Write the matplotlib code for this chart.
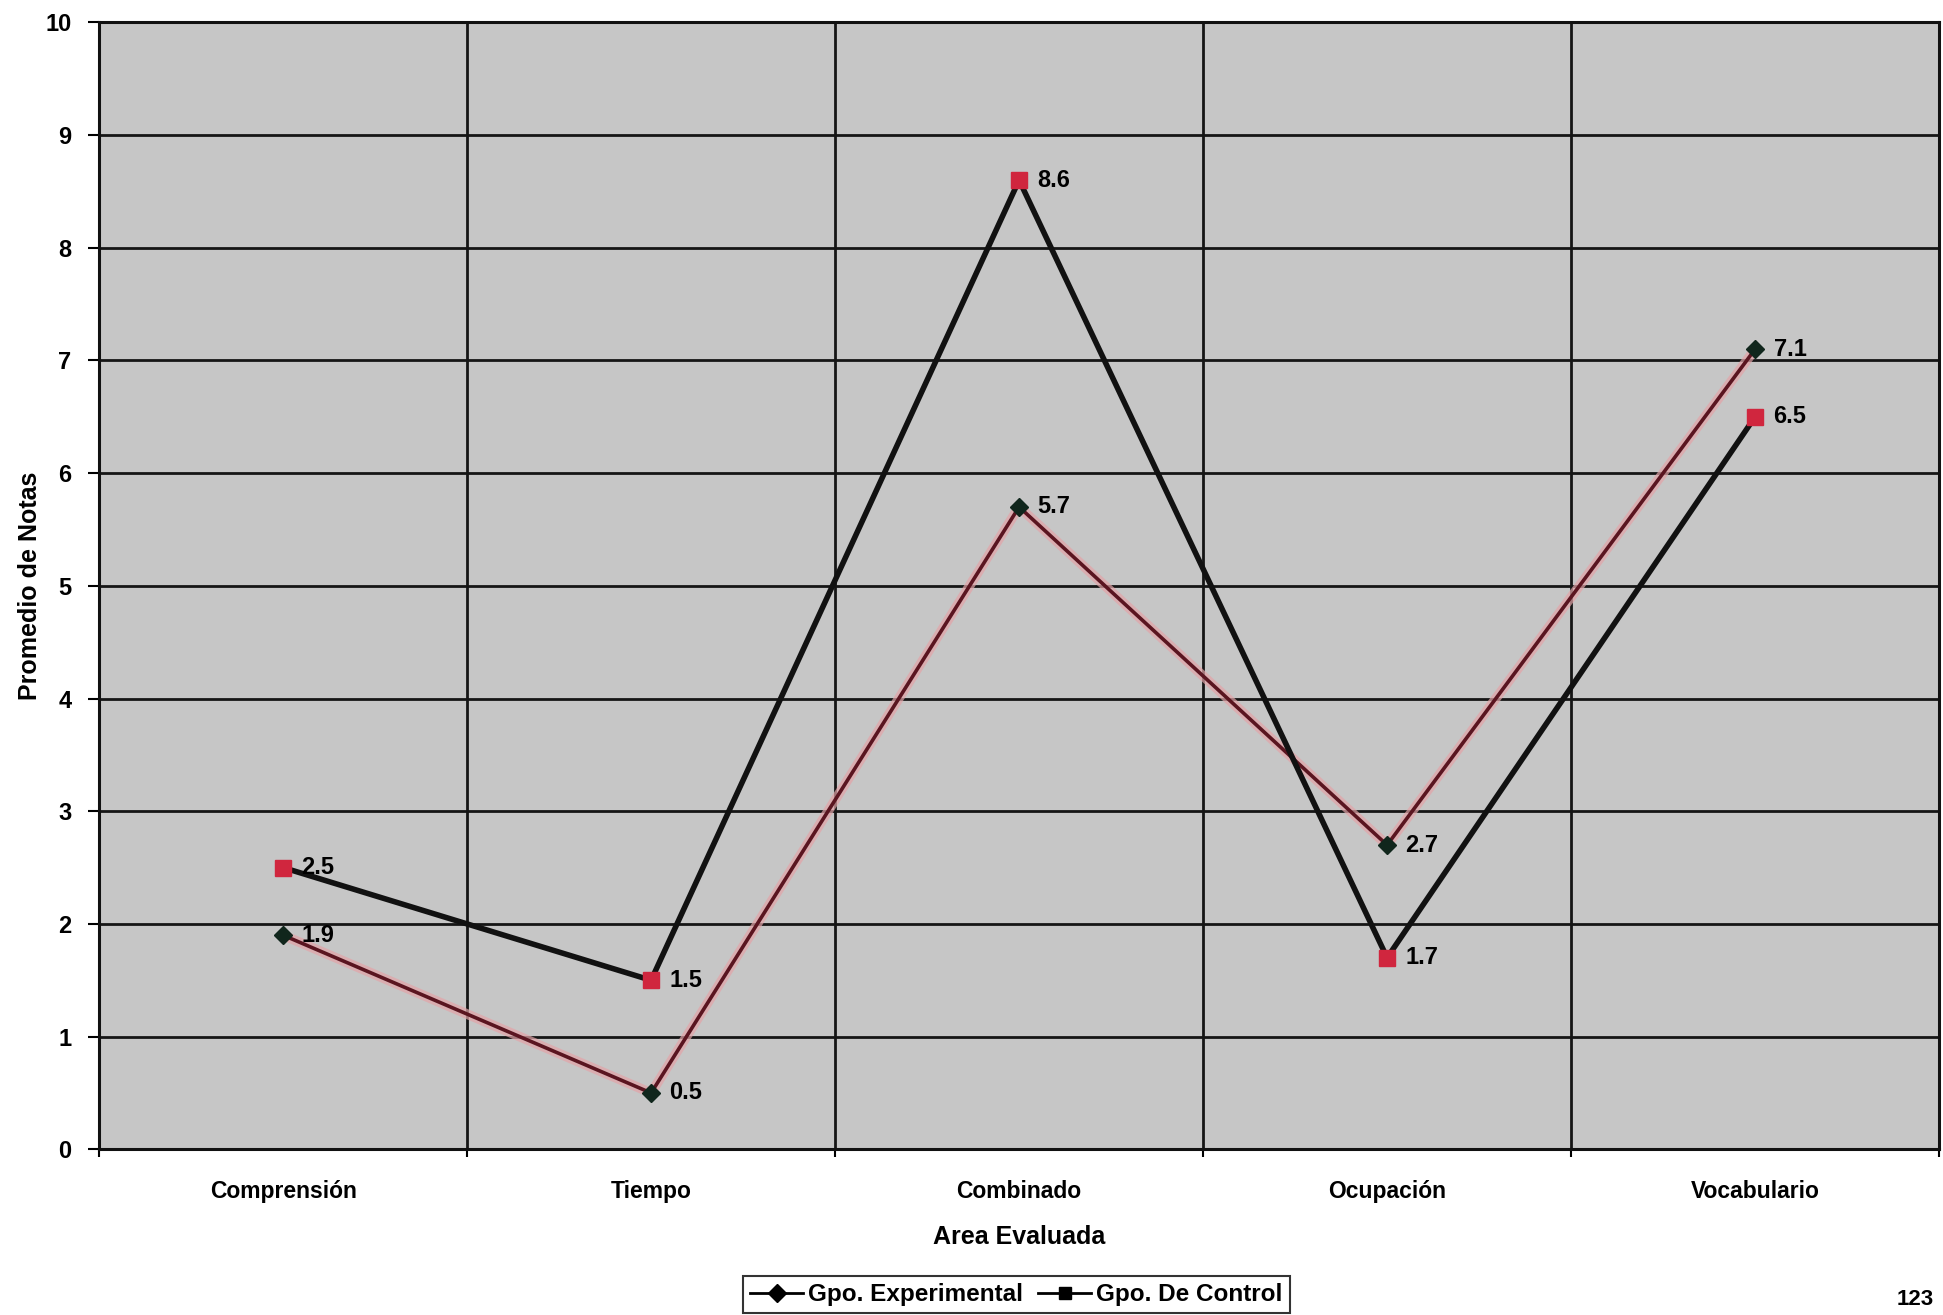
import matplotlib.pyplot as plt
import matplotlib.patheffects as pe
from matplotlib.lines import Line2D

# Data
areas = ["Comprensión", "Tiempo", "Combinado", "Ocupación", "Vocabulario"]
experimental = [1.9, 0.5, 5.7, 2.7, 7.1]
control = [2.5, 1.5, 8.6, 1.7, 6.5]
y_ticks = list(range(0, 11))

plt.rcParams['font.family'] = ['Liberation Sans', 'DejaVu Sans']
plt.rcParams['font.weight'] = 'bold'

fig = plt.figure(figsize=(19.43, 13.15), dpi=100)
ax = fig.add_axes([0.051, 0.126, 0.947, 0.857])
ax.set_facecolor('#c6c6c6')

x = list(range(len(areas)))

# Grid: horizontal at every integer, vertical at band borders
for v in y_ticks:
    ax.axhline(v, color='#151515', lw=2, zorder=1)
for b in [i + 0.5 for i in range(len(areas) - 1)]:
    ax.axvline(b, color='#151515', lw=2, zorder=1)

# Experimental group: dark red line with pink halo
ax.plot(x, experimental, color='#5a1520', lw=2.6, zorder=3,
        path_effects=[pe.Stroke(linewidth=7, foreground='#e3a3a8', alpha=0.7), pe.Normal()])
ax.plot(x, experimental, ls='none', marker='D', ms=9, color='#10261c', zorder=5)

# Control group: thick black line with red squares
ax.plot(x, control, color='#111111', lw=4, zorder=4)
ax.plot(x, control, ls='none', marker='s', ms=12, color='#d0263e', zorder=5)

for xi, v in zip(x, experimental):
    ax.text(xi + 0.05, v, f"{v}", fontsize=17, fontweight='bold', va='center', ha='left', zorder=6)
for xi, v in zip(x, control):
    ax.text(xi + 0.05, v, f"{v}", fontsize=17, fontweight='bold', va='center', ha='left', zorder=6)

ax.set_xlim(-0.5, len(areas) - 0.5)
ax.set_ylim(0, 10)
ax.set_yticks(y_ticks)
ax.set_yticklabels([str(t) for t in y_ticks], fontsize=17, fontweight='bold')
ax.set_xticks(x)
ax.set_xticklabels(areas, fontsize=16.5, fontweight='bold')
ax.set_xticks([i - 0.5 for i in range(len(areas) + 1)], minor=True)
ax.tick_params(axis='x', which='major', length=0, pad=22)
ax.tick_params(axis='x', which='minor', length=6, width=1.5, direction='out')
ax.tick_params(axis='y', length=8, width=1.5, direction='out', pad=12)

for s in ax.spines.values():
    s.set_linewidth(2.2)
    s.set_color('#111111')

ax.set_xlabel("Area Evaluada", fontsize=18, fontweight='bold', labelpad=16)
ax.set_ylabel("Promedio de Notas", fontsize=18, fontweight='bold', labelpad=2)

# Legend: black handles in a boxed row
handles = [Line2D([], [], color='black', lw=2, marker='D', ms=9),
           Line2D([], [], color='black', lw=2, marker='s', ms=9)]
leg = fig.legend(handles, ["Gpo. Experimental", "Gpo. De Control"], loc='center',
                 bbox_to_anchor=(0.523, 0.0155), ncol=2, frameon=True,
                 fancybox=False, handlelength=2.2, handletextpad=0.2, columnspacing=0.6,
                 borderpad=0.3, prop={'weight': 'bold', 'size': 17.5})
leg.get_frame().set_edgecolor('black')
leg.get_frame().set_linewidth(1.5)

fig.text(0.995, 0.004, "123", fontsize=16, fontweight='bold', ha='right', va='bottom')

plt.savefig("out.png", dpi=100)
